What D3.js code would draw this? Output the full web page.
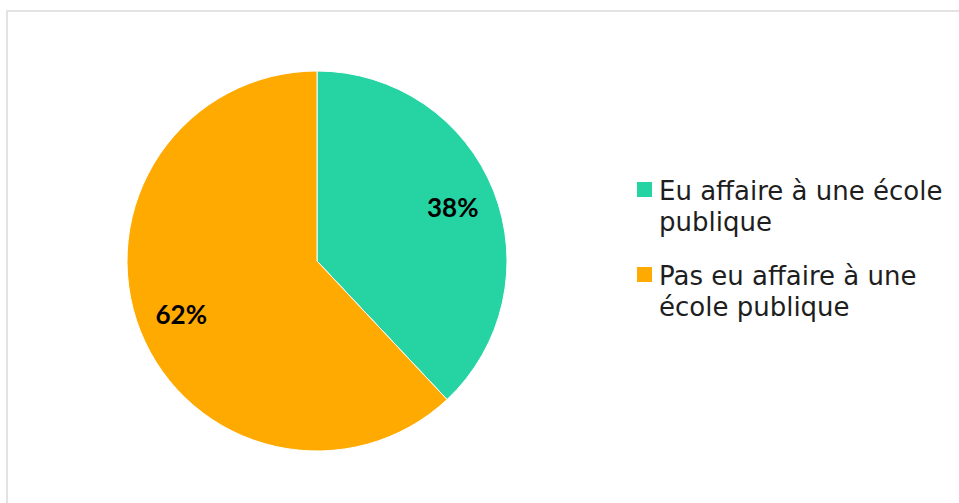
<!DOCTYPE html>
<html><head><meta charset="utf-8">
<script src="https://cdn.jsdelivr.net/npm/d3@7"></script>
<style>html,body{margin:0;padding:0;background:#fff;}svg{display:block;}</style>
</head><body>
<svg id="chart" width="959" height="503"></svg>
<script>
const categories = ["Eu affaire à une école publique", "Pas eu affaire à une école publique"];
const legendLines = [["Eu affaire à une école", "publique"], ["Pas eu affaire à une", "école publique"]];
const values = [38, 62];
const colors = ["#26D3A2", "#FFAA00"];

const svg = d3.select("#chart");
svg.append("rect").attr("x", 7).attr("y", 11).attr("width", 1200).attr("height", 800)
  .attr("fill", "none").attr("stroke", "#e3e3e3").attr("stroke-width", 2);

const cx = 317, cy = 261, R = 190;
const g = svg.append("g").attr("transform", `translate(${cx},${cy})`);
const pie = d3.pie().sort(null).value(d => d)(values);
const arc = d3.arc().innerRadius(0).outerRadius(R);
const labelArc = d3.arc().innerRadius(146).outerRadius(146);
const color = d3.scaleOrdinal().domain(d3.range(values.length)).range(colors);

g.selectAll("path").data(pie).join("path")
  .attr("d", arc).attr("fill", (d, i) => color(i))
  .attr("stroke", "#fff").attr("stroke-width", 1);

g.selectAll("text").data(pie).join("text")
  .attr("transform", d => `translate(${labelArc.centroid(d)})`)
  .attr("text-anchor", "middle").attr("dy", "0.36em")
  .attr("font-family", "Lato, sans-serif").attr("font-weight", "bold")
  .attr("font-size", 26).attr("fill", "#000")
  .text(d => d.value + "%");

const leg = svg.append("g").attr("transform", "translate(637,182)");
const item = leg.selectAll("g").data(categories).join("g")
  .attr("transform", (d, i) => `translate(0,${i * 85})`);
item.append("rect").attr("width", 15).attr("height", 15).attr("fill", (d, i) => color(i));
item.each(function(d, i) {
  const t = d3.select(this).append("text")
    .attr("font-family", "'DejaVu Sans', sans-serif").attr("font-size", 26).attr("fill", "#1e1e1e");
  legendLines[i].forEach((line, j) => {
    t.append("tspan").attr("x", 22).attr("y", 18 + j * 31).text(line);
  });
});
</script>
</body></html>
